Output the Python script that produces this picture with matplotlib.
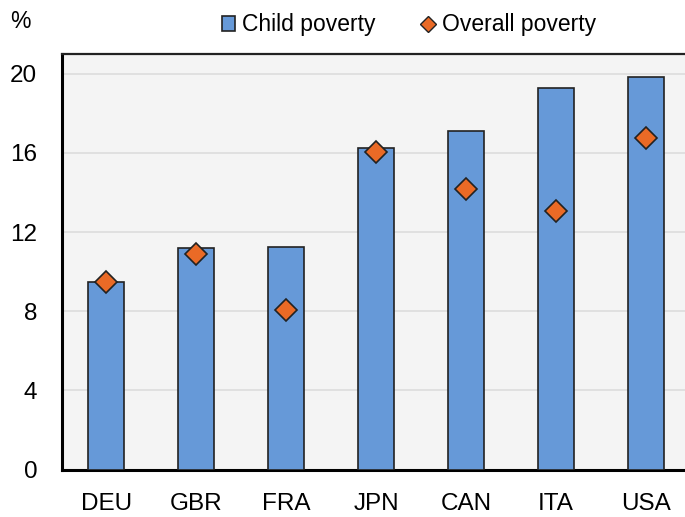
import matplotlib
matplotlib.use("Agg")
import matplotlib.pyplot as plt
from matplotlib.patches import Patch
from matplotlib.lines import Line2D
import numpy as np

countries = ["DEU", "GBR", "FRA", "JPN", "CAN", "ITA", "USA"]
child_poverty = [9.47, 11.17, 11.25, 16.24, 17.11, 19.27, 19.83]
overall_poverty = [9.47, 10.87, 8.07, 16.05, 14.16, 13.05, 16.77]
y_ticks = [0, 4, 8, 12, 16, 20]

BAR_BLUE = "#6699D8"
DIAMOND_ORANGE = "#EA6A26"
EDGE = "#222222"
BG = "#F4F4F4"

plt.rcParams["font.family"] = ["Liberation Sans", "DejaVu Sans"]

fig = plt.figure(figsize=(6.85, 5.17), dpi=100)
W, H = 685, 517
left, right = 61.5, 685
bottom, top = 469.5, 54
ax = fig.add_axes([left / W, 1 - bottom / H, (right - left) / W, (bottom - top) / H])
ax.set_facecolor(BG)

x = np.arange(len(countries))
ax.bar(x, child_poverty, width=0.4, color=BAR_BLUE, edgecolor=EDGE,
       linewidth=1.2, zorder=3)
ax.plot(x, overall_poverty, linestyle="none", marker="D", markersize=11,
        markerfacecolor=DIAMOND_ORANGE, markeredgecolor=EDGE,
        markeredgewidth=1.2, zorder=4)

# right edge of the plot runs off the picture
ax.set_xlim(-0.5, 6.5 - (690.7 - 685) / 90)
ax.set_ylim(0, 21)
ax.set_yticks(y_ticks)
ax.set_xticks(x)
ax.set_xticklabels(countries)
ax.tick_params(axis="both", length=0, labelsize=17.5, colors="black")
ax.tick_params(axis="x", pad=17)
ax.tick_params(axis="y", pad=17.5)
ax.grid(axis="y", color="#DCDCDC", linewidth=1.2, zorder=0)

for side in ("left", "bottom"):
    ax.spines[side].set_linewidth(2.2)
    ax.spines[side].set_color("black")
ax.spines["top"].set_linewidth(1.6)
ax.spines["top"].set_color("#222222")
ax.spines["right"].set_visible(False)

fig.text(20 / W, 1 - 22 / H, "%", ha="center", va="center", fontsize=16.5)

handles = [
    Patch(facecolor=BAR_BLUE, edgecolor=EDGE, linewidth=1.2),
    Line2D([], [], linestyle="none", marker="D", markersize=8.5,
           markerfacecolor=DIAMOND_ORANGE, markeredgecolor=EDGE,
           markeredgewidth=1.0),
]
fig.legend(handles, ["Child poverty", "Overall poverty"], loc="center",
           bbox_to_anchor=(409 / W, 1 - 25 / H), ncol=2, frameon=False,
           fontsize=16.5, handlelength=0.6, handleheight=0.6,
           handletextpad=0.3, columnspacing=2.0, borderpad=0)

fig.savefig("out.png", dpi=100)
